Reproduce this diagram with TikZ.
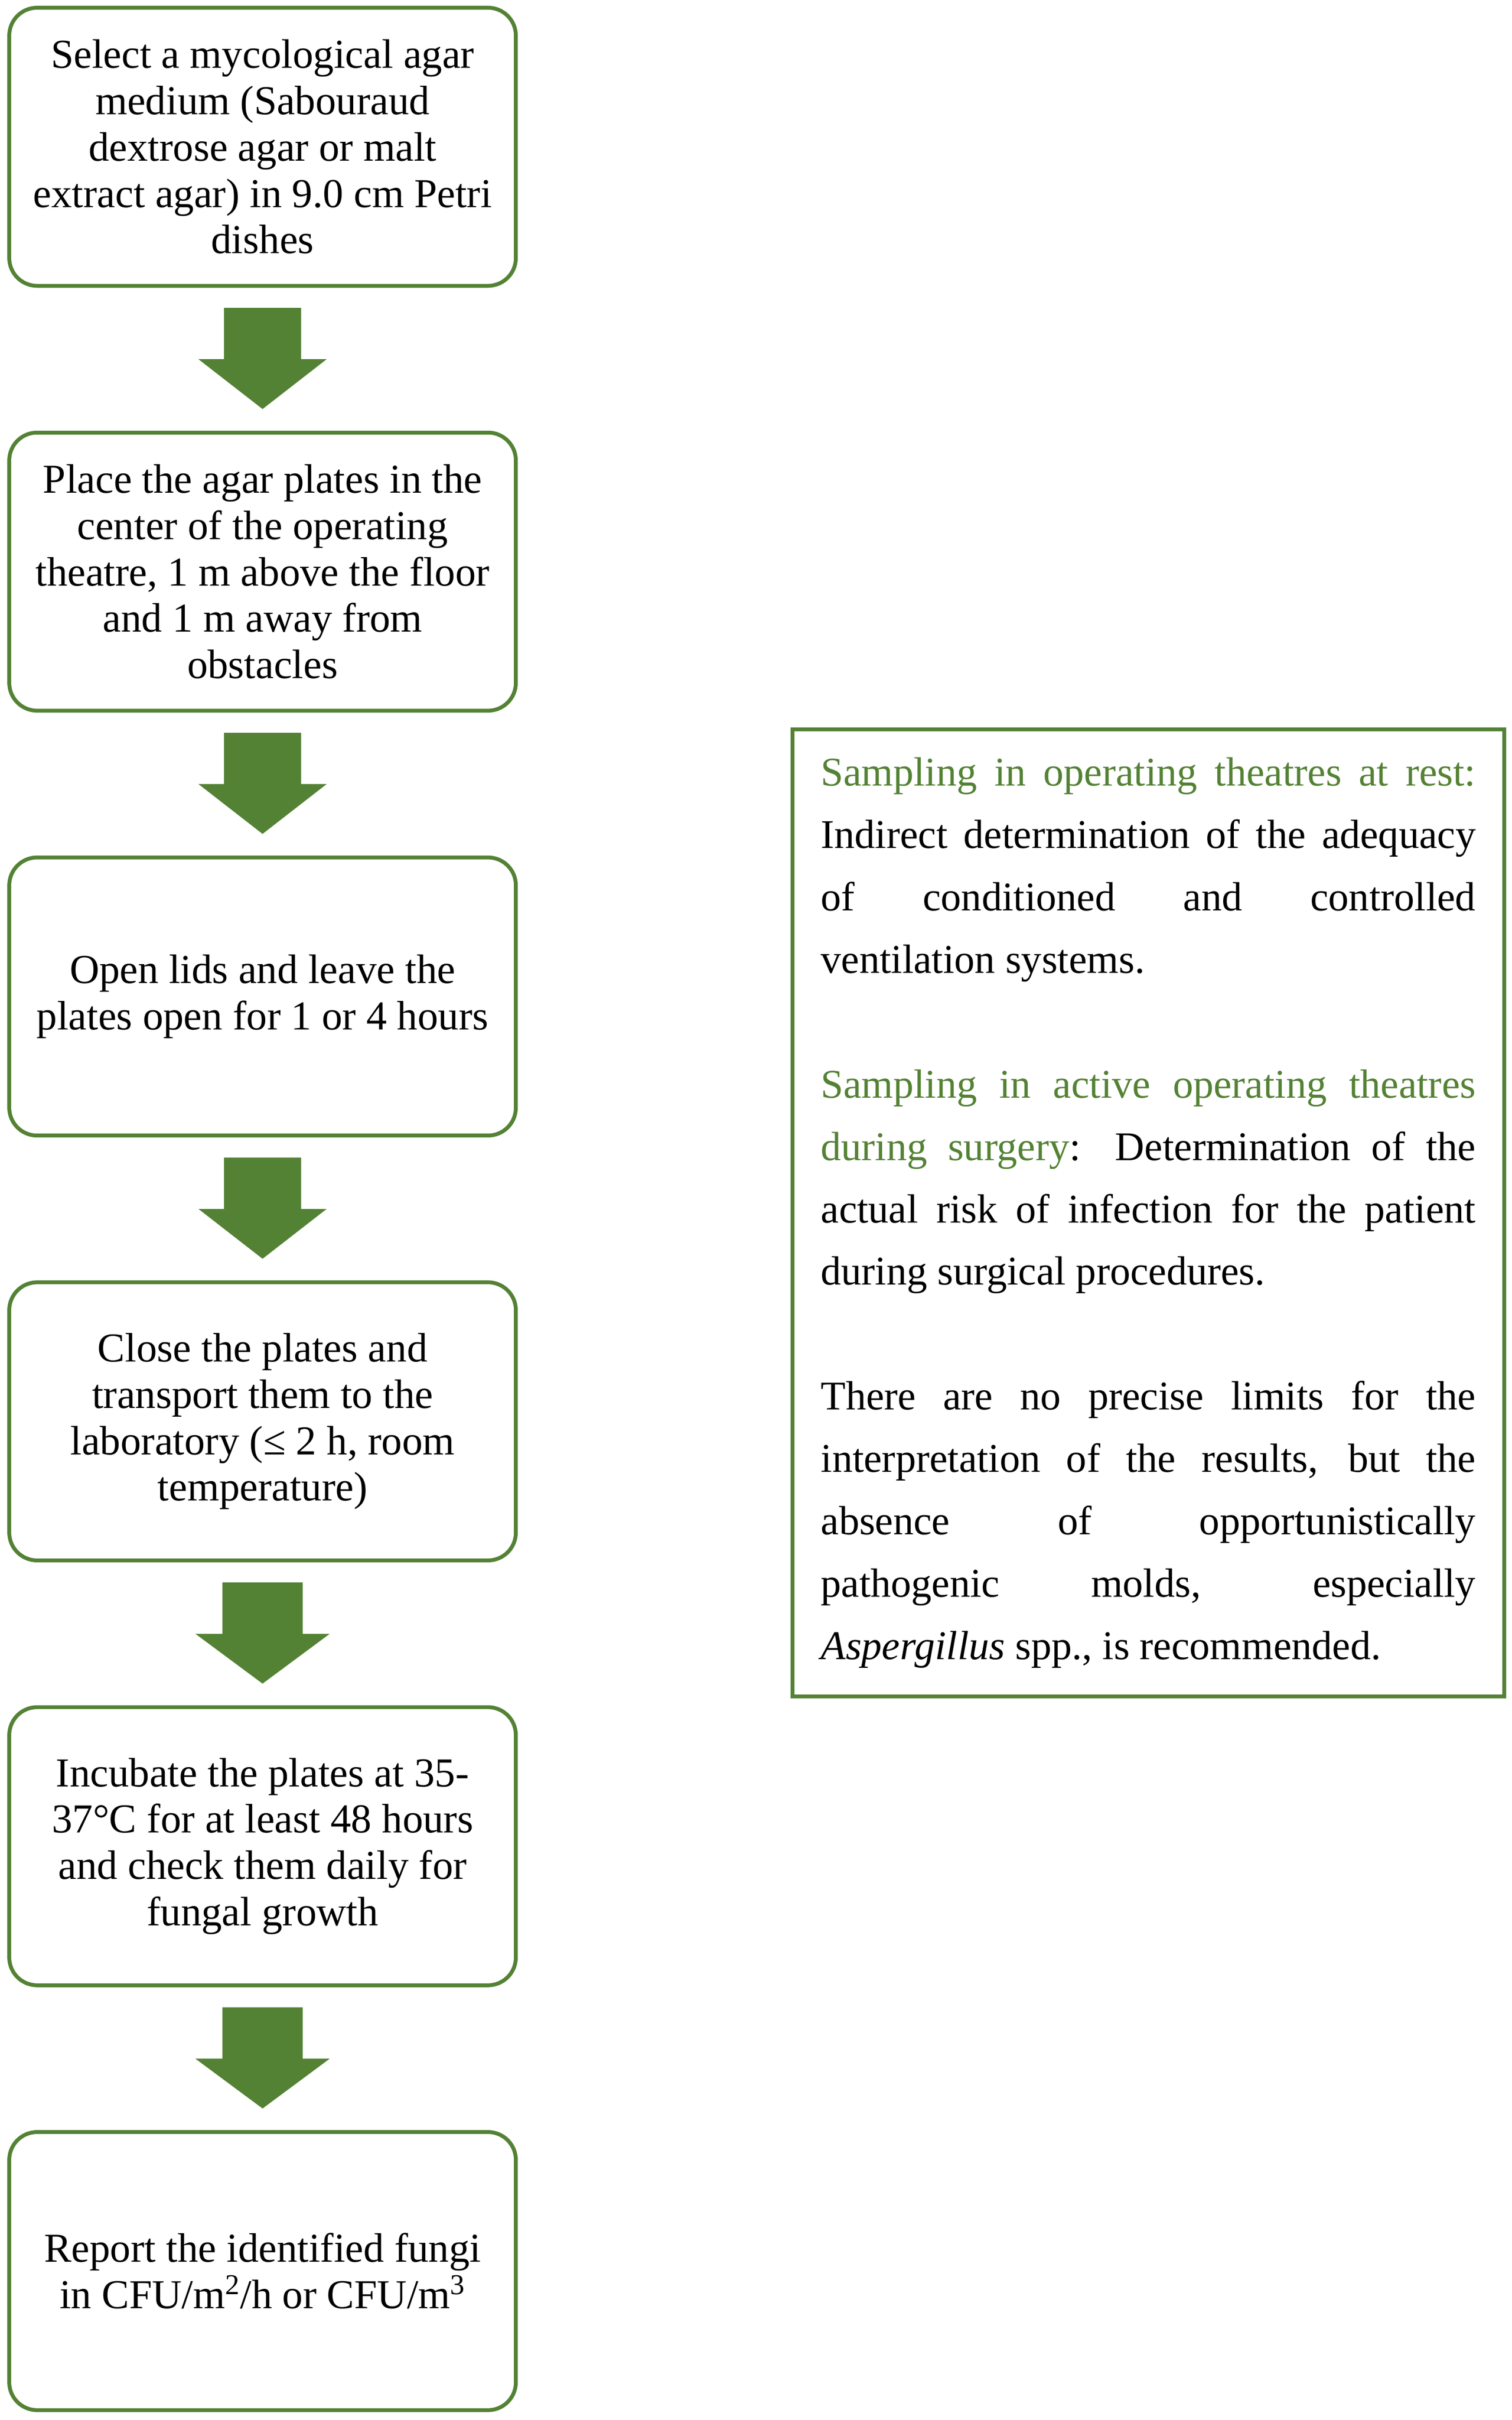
\documentclass[tikz,border=0pt]{standalone}
\usepackage{fontspec}
\setmainfont{Liberation Serif}
\usetikzlibrary{calc}
\definecolor{grn}{HTML}{548235}
\newcommand\flowarrow[4]{%
  \fill[grn] ($(#1.south)+(-#3,13)$) -- ($(#1.south)+(#3,13)$)
    -- ($($(#1.south)!.5!(#2.north)$)+(#3,0)$)
    -- ($($(#1.south)!.5!(#2.north)$)+(#4,0)$)
    -- ($(#2.north)+(0,-14)$)
    -- ($($(#1.south)!.5!(#2.north)$)+(-#4,0)$)
    -- ($($(#1.south)!.5!(#2.north)$)+(-#3,0)$) -- cycle;}
\hbadness=10000
\tolerance=9999
\hyphenpenalty=10000
\begin{document}
\begin{tikzpicture}[x=1pt,y=-1pt,
  flowbox/.style={draw=grn, line width=2.5pt, rounded corners=18pt,
    minimum width=328pt, minimum height=180pt, align=center, inner sep=0pt,
    font=\fontsize{26.6}{30}\selectfont},
  infobox/.style={draw=grn, line width=2.5pt, text width=424pt,
    inner xsep=18.5pt, inner ysep=0pt, minimum height=626pt, align=justify,
    font=\fontsize{26.4}{40.4}\selectfont}]
\useasboundingbox (0,0) rectangle (979,1566.4);
\node[flowbox] (b1) at (170,95) {Select a mycological agar\\ medium (Sabouraud\\ dextrose agar or malt\\ extract agar) in 9.0 cm Petri\\ dishes};
\node[flowbox] (b2) at (170,370) {Place the agar plates in the\\ center of the operating\\ theatre, 1 m above the floor\\ and 1 m away from\\ obstacles};
\node[flowbox] (b3) at (170,645) {Open lids and leave the\\ plates open for 1 or 4 hours};
\node[flowbox] (b4) at (170,920) {Close the plates and\\ transport them to the\\ laboratory (≤ 2 h, room\\ temperature)};
\node[flowbox] (b5) at (170,1195) {Incubate the plates at 35-\\ 37°C for at least 48 hours\\ and check them daily for\\ fungal growth};
\node[flowbox] (b6) at (170,1470) {Report the identified fungi\\ in CFU/m\textsuperscript{2}/h or CFU/m\textsuperscript{3}};
\flowarrow{b1}{b2}{25}{41.5}
\flowarrow{b2}{b3}{25}{41.5}
\flowarrow{b3}{b4}{25}{41.5}
\flowarrow{b4}{b5}{26}{43.5}
\flowarrow{b5}{b6}{26}{43.5}
\node[infobox] (info) at (743.5,785) {{\color{grn}Sampling in operating theatres at rest:}\linebreak Indirect determination of the adequacy\linebreak of conditioned and controlled\linebreak ventilation systems.\par\vspace{40.4pt}
{\color{grn}Sampling in active operating theatres\linebreak during surgery}: Determination of the\linebreak actual risk of infection for the patient\linebreak during surgical procedures.\par\vspace{40.4pt}
There are no precise limits for the\linebreak interpretation of the results, but the\linebreak absence of opportunistically\linebreak pathogenic molds, especially\linebreak \textit{Aspergillus} spp., is recommended.};
\end{tikzpicture}
\end{document}
